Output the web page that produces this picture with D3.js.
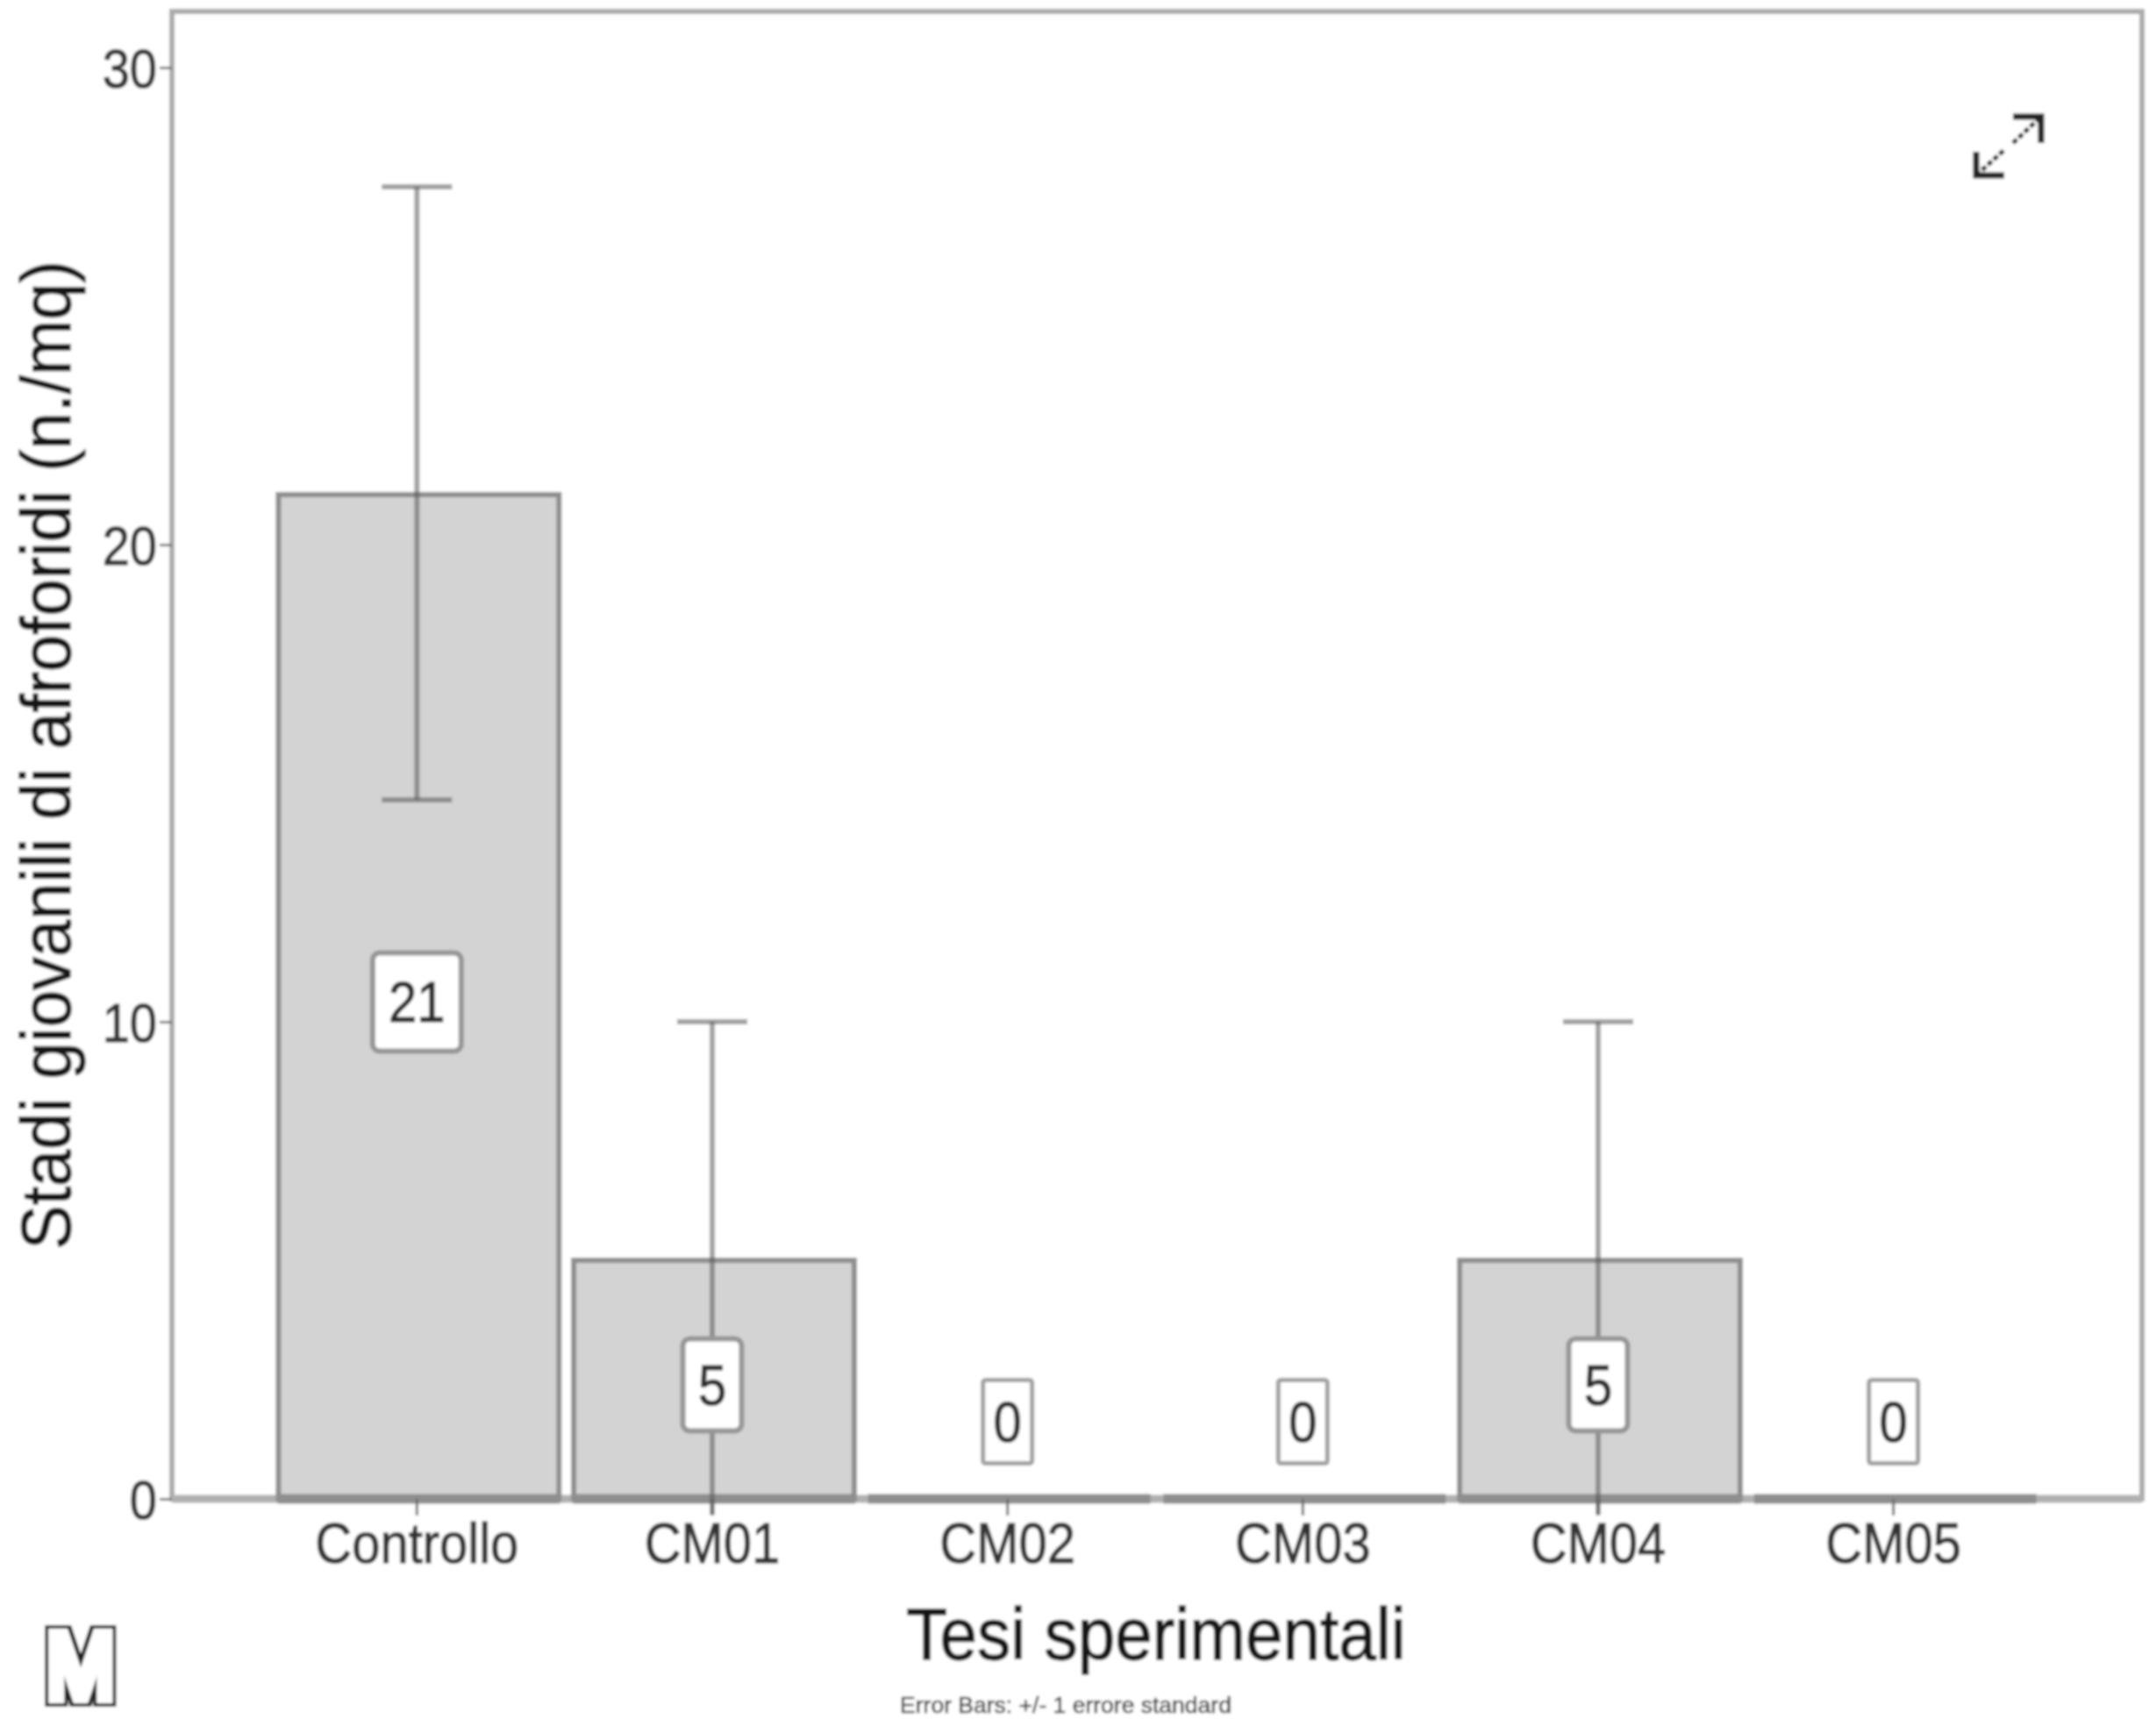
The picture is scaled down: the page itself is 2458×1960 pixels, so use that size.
<!DOCTYPE html>
<html>
<head>
<meta charset="utf-8">
<script src="https://cdn.jsdelivr.net/npm/d3@7"></script>
<style>
html,body{margin:0;padding:0;background:#fff;}
svg{display:block;}
text{font-family:"Liberation Sans",Arial,sans-serif;}
</style>
</head>
<body>
<svg id="chart" width="2458" height="1960"></svg>
<script>
const categories = ["Controllo","CM01","CM02","CM03","CM04","CM05"];
const means = [21.05,5,0,0,5,0];
const valueLabels = ["21","5","0","0","5","0"];
const errLow = [14.65,0,null,null,0,null];
const errHigh = [27.5,10,null,null,10,null];
const yTicks = [0,10,20,30];
const yTitle = "Stadi giovanili di afroforidi (n./mq)";
const xTitle = "Tesi sperimentali";
const footnote = "Error Bars: +/- 1 errore standard";

const frame = {left:196,right:2442,top:13,bottom:1709};
const svg = d3.select("#chart");
const defs = svg.append("defs");
defs.append("filter").attr("id","soft").attr("x","-2%").attr("y","-2%").attr("width","104%").attr("height","104%")
  .append("feGaussianBlur").attr("stdDeviation",1.8);
const outline = defs.append("filter").attr("id","outline").attr("x","-30%").attr("y","-30%").attr("width","160%").attr("height","160%");
outline.append("feMorphology").attr("in","SourceAlpha").attr("operator","dilate").attr("radius",9).attr("result","fat");
outline.append("feFlood").attr("flood-color","#1c1c1c").attr("result","dark");
outline.append("feComposite").attr("in","dark").attr("in2","fat").attr("operator","in").attr("result","ring");
outline.append("feMorphology").attr("in","SourceGraphic").attr("operator","dilate").attr("radius",5).attr("result","core");
const om = outline.append("feMerge");
om.append("feMergeNode").attr("in","ring");
om.append("feMergeNode").attr("in","core");

const root = svg.append("g").attr("filter","url(#soft)");
root.append("rect").attr("width",2458).attr("height",1960).attr("fill","#fff");

const x = d3.scaleBand().domain(categories).range([307,2327]).paddingInner(0.05).paddingOuter(0.025);
const y = d3.scaleLinear().domain([0,30]).range([frame.bottom,77]);
const cx = c => x(c)+x.bandwidth()/2;
const barShift = 2;

// frame
root.append("rect").attr("x",frame.left).attr("y",frame.top)
  .attr("width",frame.right-frame.left).attr("height",frame.bottom-frame.top)
  .attr("fill","none").attr("stroke","#aaa").attr("stroke-width",6);
root.append("line").attr("x1",frame.left).attr("x2",frame.right).attr("y1",frame.bottom).attr("y2",frame.bottom)
  .attr("stroke","#b0b0b0").attr("stroke-width",9);

// bars
const data = categories.map((c,i)=>({c,v:means[i],lab:valueLabels[i],lo:errLow[i],hi:errHigh[i]}));
const bars = root.append("g").attr("transform",`translate(${barShift},0)`);
bars.selectAll("path").data(data).join("path")
  .attr("d",d=>{const p=d3.path();const a=x(d.c),b=a+x.bandwidth();
    p.moveTo(a,y(0));p.lineTo(a,y(d.v));p.lineTo(b,y(d.v));p.lineTo(b,y(0));p.closePath();return p.toString();})
  .attr("fill","#d3d3d3").attr("stroke","#8e8e8e").attr("stroke-width",6);
bars.selectAll("line").data(data).join("line")
  .attr("x1",d=>x(d.c)-1).attr("x2",d=>x(d.c)+x.bandwidth()+1)
  .attr("y1",y(0)).attr("y2",y(0)).attr("stroke","#8e8e8e").attr("stroke-width",11);

const ink = (sel,color,w)=>sel.attr("fill",color).attr("stroke",color).attr("stroke-width",w);

// x axis ticks and labels
const xAxis = root.append("g").attr("transform",`translate(0,${frame.bottom})`)
  .call(d3.axisBottom(x).tickSize(19).tickPadding(0));
xAxis.select(".domain").remove();
xAxis.selectAll("line").attr("stroke","#6d6d6d").attr("stroke-width",3);
xAxis.selectAll("text").attr("font-size",58).attr("font-family",null)
  .attr("text-anchor","middle").attr("dy",null).attr("y",null)
  .attr("transform","translate(0,73) scale(1,1.12)")
  .call(ink,"#333",1);

// y axis
const yAxis = root.append("g").attr("transform",`translate(${frame.left},0)`)
  .call(d3.axisLeft(y).tickValues(yTicks).tickSize(14).tickPadding(0).tickFormat(d3.format("d")));
yAxis.select(".domain").remove();
yAxis.selectAll("line").attr("stroke","#777").attr("stroke-width",3);
yAxis.selectAll("text").attr("font-size",56).attr("font-family",null)
  .attr("text-anchor","end").attr("dy",null).attr("x",null)
  .attr("transform","translate(-17,22) scale(1,1.12)")
  .call(ink,"#333",1);

// error bars
const ebColor = "rgba(85,85,85,0.55)";
const errs = data.filter(d=>d.hi!==null);
const eb = root.append("g").attr("stroke",ebColor).attr("fill","none");
eb.selectAll(".stem").data(errs).join("line").attr("class","stem")
  .attr("x1",d=>cx(d.c)).attr("x2",d=>cx(d.c))
  .attr("y1",d=>y(d.hi)).attr("y2",d=>d.lo===0?y(0)+18:y(d.lo)).attr("stroke-width",6);
eb.selectAll(".capHi").data(errs).join("line").attr("class","capHi")
  .attr("x1",d=>cx(d.c)-40).attr("x2",d=>cx(d.c)+40)
  .attr("y1",d=>y(d.hi)).attr("y2",d=>y(d.hi)).attr("stroke-width",6);
eb.selectAll(".capLo").data(errs.filter(d=>d.lo>0)).join("line").attr("class","capLo")
  .attr("x1",d=>cx(d.c)-40).attr("x2",d=>cx(d.c)+40)
  .attr("y1",d=>y(d.lo)).attr("y2",d=>y(d.lo)).attr("stroke-width",6);

// value labels
const labCy = d => d.v>0 ? y(d.v/2)+6 : y(0)-88;
const labW = d => d.v>=10 ? 101 : d.v>0 ? 67 : 56;
const labH = d => d.v>=10 ? 112 : d.v>0 ? 105 : 95;
const labs = root.append("g").selectAll("g").data(data).join("g")
  .attr("transform",d=>`translate(${cx(d.c)},${labCy(d)})`);
labs.append("rect")
  .attr("x",d=>-labW(d)/2).attr("y",d=>-labH(d)/2)
  .attr("width",labW).attr("height",labH).attr("rx",d=>d.v>0?8:3)
  .attr("fill","#fff").attr("stroke",d=>d.v>0?"#969696":"#a0a0a0")
  .attr("stroke-width",d=>d.v>0?6:5);
labs.append("text").text(d=>d.lab).attr("text-anchor","middle")
  .attr("font-size",58)
  .attr("transform","translate(0,23) scale(1,1.13)")
  .call(ink,"#2a2a2a",1);

// titles
root.append("text").text(xTitle).attr("text-anchor","middle")
  .attr("font-size",76.5)
  .attr("transform","translate(1318,1892) scale(1,1.08)")
  .call(ink,"#141414",1.2);
root.append("text").text(yTitle).attr("text-anchor","middle")
  .attr("font-size",76)
  .attr("transform","translate(80,861) rotate(-90) scale(1,1.05)")
  .call(ink,"#141414",1.2);
root.append("text").text(footnote).attr("text-anchor","middle")
  .attr("font-size",26.5)
  .attr("transform","translate(1215,1953)")
  .call(ink,"#444",0.6);

// resize arrow (overlay icon)
const arrow = root.append("g").attr("stroke","#222").attr("fill","none").attr("stroke-width",7);
arrow.append("path").attr("d","M2253 173V200H2285");
arrow.append("path").attr("d","M2295 133H2327V163");
arrow.append("path").attr("d","M2253 200L2286 170").attr("stroke-dasharray","6 3").attr("stroke-width",5);
arrow.append("path").attr("d","M2295 163L2327 133").attr("stroke-dasharray","6 3").attr("stroke-width",5);

// M logo
root.append("text").text("M").attr("font-size",94)
  .attr("fill","#fff").attr("filter","url(#outline)")
  .attr("text-anchor","middle").attr("transform","translate(92,1936) scale(1,1.12)");
</script>
</body>
</html>
